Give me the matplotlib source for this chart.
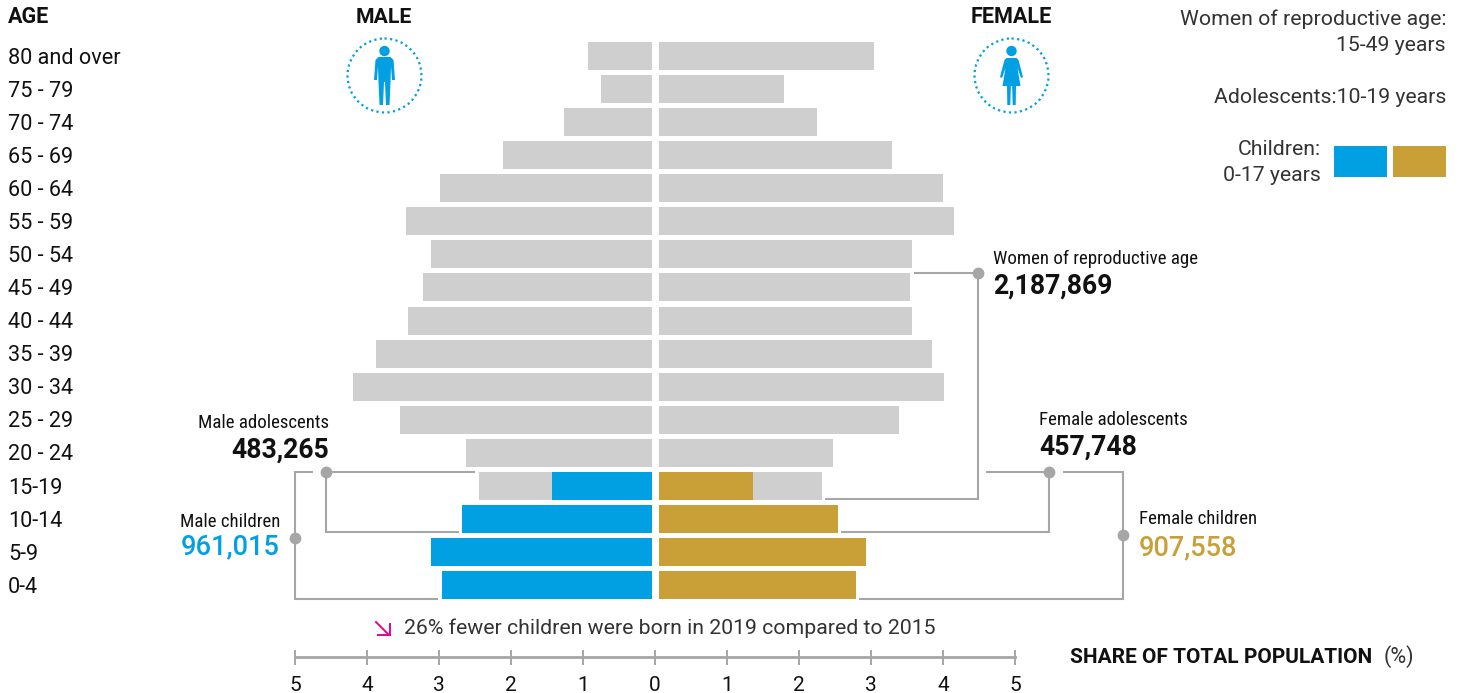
#!/usr/bin/env python3
"""Population pyramid with children / adolescents highlighted."""

import matplotlib
matplotlib.use('Agg')
import matplotlib.pyplot as plt
from matplotlib import font_manager as fm
from matplotlib.patches import Circle, Polygon
from matplotlib.transforms import blended_transform_factory

ages = ['80 and over', '75 - 79', '70 - 74', '65 - 69', '60 - 64', '55 - 59', '50 - 54', '45 - 49',
        '40 - 44', '35 - 39', '30 - 34', '25 - 29', '20 - 24', '15-19', '10-14', '5-9', '0-4']
male = [0.93, 0.75, 1.26, 2.11, 2.99, 3.46, 3.11, 3.22, 3.43, 3.875, 4.19, 3.54, 2.625, 2.44, 2.68, 3.11, 2.96]
female = [3.04, 1.79, 2.25, 3.29, 4.0, 4.15, 3.57, 3.54, 3.57, 3.85, 4.01, 3.39, 2.47, 2.32, 2.54, 2.93, 2.79]
male_children = [0, 0, 0, 0, 0, 0, 0, 0, 0, 0, 0, 0, 0, 1.43, 2.68, 3.11, 2.96]
female_children = [0, 0, 0, 0, 0, 0, 0, 0, 0, 0, 0, 0, 0, 1.36, 2.54, 2.93, 2.79]
axis_ticks = [-5, -4, -3, -2, -1, 0, 1, 2, 3, 4, 5]

BLUE = '#00A0E3'
GOLD = '#C9A038'
GREY = '#CFCFCF'
LINE = '#A6A6A6'
PINK = '#EC008C'
INK = '#111111'
SOFT = '#333333'

names = {f.name for f in fm.fontManager.ttflist}
NARROW = 'Roboto Condensed' if 'Roboto Condensed' in names else (
    'Liberation Sans Narrow' if 'Liberation Sans Narrow' in names else 'Roboto')
plt.rcParams['font.family'] = ['Roboto', 'DejaVu Sans']

W, H = 1462, 693
fig = plt.figure(figsize=(W / 100, H / 100), dpi=100)

# main axes: x in % of population (72 px per unit), y in age rows (33.07 px per row)
ax = fig.add_axes([0, 0, 1, 1])
ax.set_xlim(-655 / 72, (W - 655) / 72)
ax.set_ylim((H - 56) / 33.07, -56 / 33.07)
rows = list(range(len(ages)))
bar_h = 28 / 33.07
ax.barh(rows, [-v for v in male], height=bar_h, color=GREY, linewidth=0)
ax.barh(rows, female, height=bar_h, color=GREY, linewidth=0)
ax.barh(rows, [-v for v in male_children], height=bar_h, color=BLUE, linewidth=0)
ax.barh(rows, female_children, height=bar_h, color=GOLD, linewidth=0)
# white central gap between the two halves
ax.vlines(0, -1, len(ages), color='white', lw=7 * 0.72, zorder=3)

for s in ['top', 'left', 'right']:
    ax.spines[s].set_visible(False)
ax.spines['bottom'].set_position(('data', (657 - 56) / 33.07))
ax.spines['bottom'].set_bounds(-5, 5)
ax.spines['bottom'].set_color(LINE)
ax.spines['bottom'].set_linewidth(2)
ax.set_yticks([])
ax.set_xticks(axis_ticks, [str(abs(t)) for t in axis_ticks])
ax.tick_params(axis='x', direction='inout', length=15 * 0.72, width=1.4, color=LINE,
               labelsize=15, labelcolor=INK, pad=8)

# overlay in pixel coordinates for annotations
ov = fig.add_axes([0, 0, 1, 1], facecolor='none')
ov.set_xlim(0, W)
ov.set_ylim(H, 0)
ov.axis('off')


def label(x, y, s, size=14.5, weight='normal', color=INK, ha='left', family=None):
    kw = {'family': [family, 'Roboto']} if family else {}
    return ov.text(x, y, s, fontsize=size, fontweight=weight, color=color, ha=ha, va='baseline', **kw)


# age labels
row_tf = blended_transform_factory(ov.transData, ax.transData)
ov.text(8, 23, 'AGE', fontsize=15.5, fontweight='bold', color=INK)
for i, a in enumerate(ages):
    ov.text(8, i + 0.23, a, transform=row_tf, fontsize=15.6, color=INK, va='baseline')

label(384, 23, 'MALE', 15.2, 'bold', ha='center')
label(1011.5, 23, 'FEMALE', 15.6, 'bold', ha='center')

# legend block
label(1446, 25, 'Women of reproductive age:', 15.3, 'normal', SOFT, ha='right')
label(1446, 51, '15-49 years', 15.3, 'normal', SOFT, ha='right')
label(1446, 103, 'Adolescents:10-19 years', 15.3, 'normal', SOFT, ha='right')
label(1321, 155, 'Children:', 15.3, 'normal', SOFT, ha='right')
label(1321, 181, '0-17 years', 15.3, 'normal', SOFT, ha='right')
ov.add_patch(plt.Rectangle((1334, 146), 53, 31, color=BLUE, lw=0))
ov.add_patch(plt.Rectangle((1393, 146), 53, 31, color=GOLD, lw=0))


def icon(cx, female_shape):
    ov.add_patch(Circle((cx, 75.5), 37, fill=False, ec=BLUE, lw=1.6, ls=(0, (1, 1.5))))
    ov.add_patch(Circle((cx, 51), 5.2, color=BLUE, lw=0))
    if female_shape:
        pts = [(-5, 58), (5, 58), (7, 60), (11.5, 77), (9.5, 78), (6, 68), (9, 86), (4.5, 86), (4.2, 105),
               (1.2, 105), (0.6, 86), (-0.6, 86), (-1.2, 105), (-4.2, 105), (-4.5, 86), (-9, 86),
               (-6, 68), (-9.5, 78), (-11.5, 77), (-7, 60)]
    else:
        pts = [(-6, 57), (6, 57), (9, 60), (10.5, 80), (7.5, 80), (6.5, 66), (6, 82), (5, 105), (1.5, 105),
               (0.5, 82), (-0.5, 82), (-1.5, 105), (-5, 105), (-6, 82), (-6.5, 66), (-7.5, 80),
               (-10.5, 80), (-9, 60)]
    ov.add_patch(Polygon([(cx + x, y) for x, y in pts], closed=True, color=BLUE, lw=0))


icon(384.5, False)
icon(1011.5, True)


def bracket(xs, ys, dot):
    ov.plot(xs, ys, color=LINE, lw=1.5, solid_joinstyle='miter', solid_capstyle='butt')
    ov.plot(*dot, 'o', color=LINE, ms=8.5, mew=0)


bracket([914, 978, 978, 825], [273, 273, 499, 499], (978, 273))
bracket([475, 326, 326, 459], [472, 472, 532, 532], (326, 472))
bracket([313, 295, 295, 438], [472, 472, 599, 599], (295, 538))
bracket([986, 1049, 1049, 841], [472, 472, 532, 532], (1049, 472))
bracket([1063, 1123, 1123, 859], [472, 472, 599, 599], (1123, 535))

# callouts
label(993, 264, 'Women of reproductive age', 13.6, family=NARROW)
label(993, 294, '2,187,869', 19.2, 'bold')
label(329, 428, 'Male adolescents', 13.6, ha='right', family=NARROW)
label(329, 458, '483,265', 19.2, 'bold', ha='right')
label(280, 527, 'Male children', 13.6, ha='right', family=NARROW)
label(280, 554, '961,015', 19.6, 'medium', BLUE, ha='right')
label(1039, 425, 'Female adolescents', 13.6, family=NARROW)
label(1039, 455, '457,748', 19.2, 'bold')
label(1139, 524, 'Female children', 13.6, family=NARROW)
label(1139, 555, '907,558', 19.6, 'medium', GOLD)

# note and axis title
ov.plot([376, 389], [622, 635], color=PINK, lw=1.4)
ov.plot([378, 390, 390], [635, 635, 624], color=PINK, lw=1.4, solid_joinstyle='miter')
label(404, 634, '26% fewer children were born in 2019 compared to 2015', 15.3, 'normal', SOFT)
label(1070, 663, 'SHARE OF TOTAL POPULATION', 15, 'bold')
label(1384, 663, '(%)', 15.5, 'normal', SOFT)

fig.savefig('out.png', dpi=100)
plt.close(fig)
